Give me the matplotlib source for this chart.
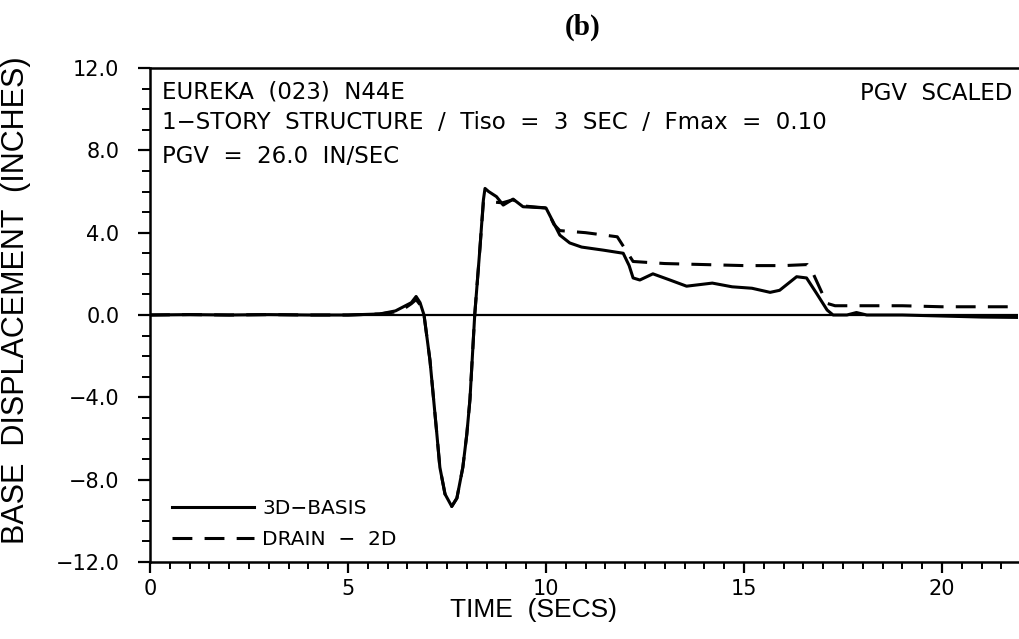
# Base displacement time history, Eureka (023) N44E record
import numpy as np
import matplotlib.pyplot as plt
from matplotlib.ticker import MultipleLocator

# 3D-BASIS response (solid)
t_basis = [0, 1, 2, 3, 4, 5, 5.8, 6.2, 6.45, 6.6, 6.72, 6.82, 6.92, 7.07, 7.24,
           7.32, 7.45, 7.62, 7.75, 7.9, 8.0, 8.08, 8.2, 8.33, 8.42, 8.46, 8.55,
           8.75, 8.92, 9.17, 9.42, 10.0, 10.2, 10.35, 10.6, 10.9, 11.45, 11.95,
           12.1, 12.2, 12.37, 12.7, 13.13, 13.55, 14.2, 14.7, 15.2, 15.66, 15.9,
           16.33, 16.58, 16.83, 17.1, 17.25, 17.6, 17.84, 18.1, 19, 20, 21, 22]
d_basis = [0, 0.02, 0, 0.02, 0, 0, 0.05, 0.2, 0.45, 0.6, 0.9, 0.6, 0, -2.2, -5.7,
           -7.4, -8.7, -9.3, -8.9, -7.4, -5.8, -4.1, 0, 3.2, 5.6, 6.15, 6.0,
           5.75, 5.34, 5.63, 5.26, 5.2, 4.45, 3.88, 3.5, 3.3, 3.15, 3.0,
           2.4, 1.8, 1.7, 2.0, 1.7, 1.4, 1.55, 1.37, 1.3, 1.1, 1.2,
           1.86, 1.8, 1.06, 0.24, 0, 0, 0.12, 0, 0, -0.05, -0.1, -0.12]

# DRAIN-2D response (dashed)
t_drain = [0, 1, 2, 3, 4, 5, 5.8, 6.2, 6.45, 6.6, 6.72, 6.82, 6.92, 7.07, 7.24,
           7.32, 7.45, 7.62, 7.75, 7.9, 8.0, 8.08, 8.2, 8.33, 8.42, 8.6, 8.9,
           9.17, 9.42, 10.0, 10.2, 10.35, 11.0, 11.8, 12.0, 12.2, 13.0, 14.0,
           15.0, 16.0, 16.6, 16.75, 17.09, 17.3, 18, 19, 20, 21, 22]
d_drain = [0, 0.02, 0, 0.02, 0, 0, 0.05, 0.15, 0.35, 0.55, 0.75, 0.5, 0, -2.2, -5.7,
           -7.4, -8.7, -9.3, -8.9, -7.4, -5.8, -4.1, 0, 3.2, 5.5, 5.5, 5.45,
           5.6, 5.3, 5.2, 4.4, 4.1, 4.0, 3.8, 3.2, 2.6, 2.5, 2.45,
           2.4, 2.4, 2.45, 2.0, 0.57, 0.45, 0.45, 0.45, 0.4, 0.4, 0.4]

x_ticks = [0, 5, 10, 15, 20]
y_ticks = [-12, -8, -4, 0, 4, 8, 12]
y_tick_labels = ['\u221212.0', '\u22128.0', '\u22124.0', '0.0', '4.0', '8.0', '12.0']

plt.rcParams['font.family'] = ['DejaVu Sans']
narrow = ['Liberation Sans Narrow', 'Liberation Sans', 'DejaVu Sans']

fig = plt.figure(figsize=(10.2, 6.39), dpi=100)
ax = fig.add_axes([150 / 1020, 77 / 639, 868 / 1020, 494 / 639])

ax.axhline(0, color='black', lw=1.6, zorder=1)
ax.plot(t_basis, d_basis, color='black', lw=2.2, label='3D\u2212BASIS')
ax.plot(t_drain, d_drain, color='black', lw=2.2, linestyle=(0, (6.5, 4)),
        label='DRAIN  \u2212  2D')

ax.set_xlim(0, 21.92)
ax.set_ylim(-12, 12)
ax.set_xticks(x_ticks)
ax.set_xticklabels([str(v) for v in x_ticks])
ax.set_yticks(y_ticks)
ax.set_yticklabels(y_tick_labels)
ax.xaxis.set_minor_locator(MultipleLocator(0.5))
ax.yaxis.set_minor_locator(MultipleLocator(1.0))

ax.spines['right'].set_visible(False)
for s in ['left', 'bottom', 'top']:
    ax.spines[s].set_linewidth(1.8)

ax.tick_params(axis='x', which='major', direction='out', length=8, width=1.6,
               labelsize=15, pad=4)
ax.tick_params(axis='x', which='minor', direction='out', length=5, width=1.4)
ax.tick_params(axis='y', which='major', direction='out', length=9, width=1.6,
               labelsize=15, pad=13)
ax.tick_params(axis='y', which='minor', direction='out', length=6, width=1.4)

ax.set_xlabel('TIME  (SECS)', fontsize=19, family=narrow)
ax.xaxis.set_label_coords((533 - 150) / 868, -0.072)
ax.set_ylabel('BASE  DISPLACEMENT  (INCHES)', fontsize=22, family=narrow)
ax.yaxis.set_label_coords(-0.137, 0.53)

ax.text(0.014, 0.951, 'EUREKA  (023)  N44E', transform=ax.transAxes,
        fontsize=16.5, va='center', ha='left')
ax.text(0.014, 0.889, '1\u2212STORY  STRUCTURE  /  Tiso  =  3  SEC  /  Fmax  =  0.10',
        transform=ax.transAxes, fontsize=16.5, va='center', ha='left')
ax.text(0.014, 0.82, 'PGV  =  26.0  IN/SEC', transform=ax.transAxes,
        fontsize=16.5, va='center', ha='left')
ax.text(0.993, 0.949, 'PGV  SCALED', transform=ax.transAxes,
        fontsize=16.5, va='center', ha='right')

ax.legend(loc='lower left', bbox_to_anchor=(0.025, 0.026), frameon=False,
          fontsize=14.5, handlelength=4.1, handletextpad=0.4, borderpad=0,
          borderaxespad=0, labelspacing=0.6)

fig.text(583 / 1020, 1 - 27 / 639, '(b)', fontsize=21, fontweight='bold',
         family='Liberation Serif', ha='center', va='center')

fig.savefig('out.png', dpi=100)
